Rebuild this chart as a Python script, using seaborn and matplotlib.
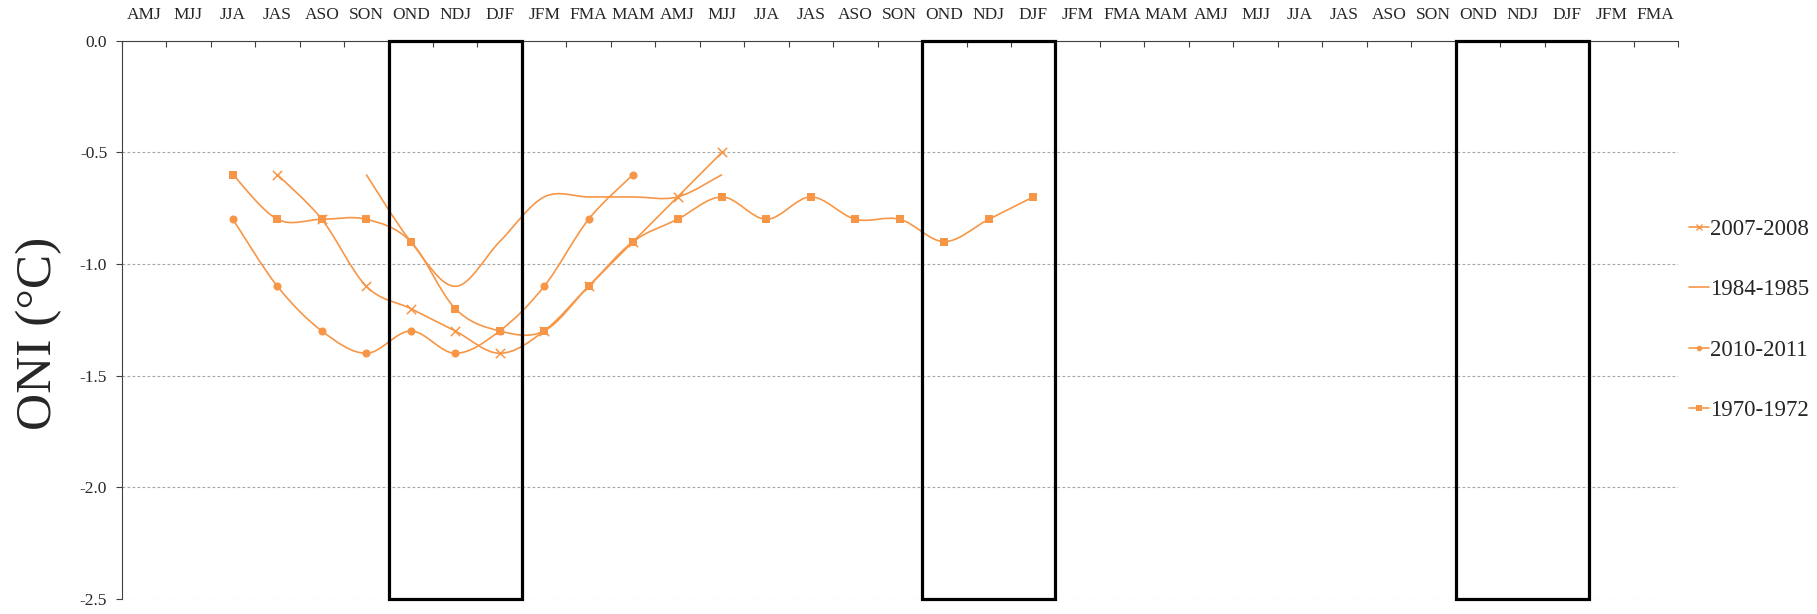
import numpy as np
import pandas as pd
import matplotlib
matplotlib.use("Agg")
import matplotlib.pyplot as plt
import seaborn as sns
from matplotlib.path import Path
from matplotlib.patches import PathPatch, Rectangle
from matplotlib.lines import Line2D

# 3-month seasons along the top axis
seasons = ['AMJ', 'MJJ', 'JJA', 'JAS', 'ASO', 'SON', 'OND', 'NDJ', 'DJF', 'JFM', 'FMA', 'MAM',
           'AMJ', 'MJJ', 'JJA', 'JAS', 'ASO', 'SON', 'OND', 'NDJ', 'DJF', 'JFM', 'FMA', 'MAM',
           'AMJ', 'MJJ', 'JJA', 'JAS', 'ASO', 'SON', 'OND', 'NDJ', 'DJF', 'JFM', 'FMA']

# ONI values (first season index where each series starts)
start_2007 = 3
oni_2007 = [-0.6, -0.8, -1.1, -1.2, -1.3, -1.4, -1.3, -1.1, -0.9, -0.7, -0.5]
start_1984 = 5
oni_1984 = [-0.6, -0.9, -1.1, -0.9, -0.7, -0.7, -0.7, -0.7, -0.6]
start_2010 = 2
oni_2010 = [-0.8, -1.1, -1.3, -1.4, -1.3, -1.4, -1.3, -1.1, -0.8, -0.6]
start_1970 = 2
oni_1970 = [-0.6, -0.8, -0.8, -0.8, -0.9, -1.2, -1.3, -1.3, -1.1, -0.9, -0.8, -0.7,
            -0.8, -0.7, -0.8, -0.8, -0.9, -0.8, -0.7]

# winter boxes (first season index, number of seasons)
boxes = [(6, 3), (18, 3), (30, 3)]

y_ticks = [-2.5, -2.0, -1.5, -1.0, -0.5, 0.0]
y_tick_labels = ['-2.5', '-2.0', '-1.5', '-1.0', '-0.5', '0.0']

orange = '#F79646'

sns.set_style("white")
plt.rcParams['font.family'] = ['Liberation Serif', 'DejaVu Serif']

series = [
    ('2007-2008', start_2007, oni_2007, 'x'),
    ('1984-1985', start_1984, oni_1984, None),
    ('2010-2011', start_2010, oni_2010, 'o'),
    ('1970-1972', start_1970, oni_1970, 's'),
]

frames = []
for name, start, vals, mk in series:
    frames.append(pd.DataFrame({'series': name,
                                'x': np.arange(start, start + len(vals)) + 0.5,
                                'oni': vals}))
df = pd.concat(frames, ignore_index=True)


def smooth_path(xs, ys):
    # bezier segments, like a spreadsheet "smoothed line"
    pts = np.column_stack([xs, ys])
    verts = [pts[0]]
    codes = [Path.MOVETO]
    n = len(pts)
    for i in range(n - 1):
        p0 = pts[i - 1] if i > 0 else pts[i]
        p1 = pts[i]
        p2 = pts[i + 1]
        p3 = pts[i + 2] if i + 2 < n else pts[i + 1]
        c1 = p1 + (p2 - p0) / 6.0
        c2 = p2 - (p3 - p1) / 6.0
        verts += [c1, c2, p2]
        codes += [Path.CURVE4] * 3
    return Path(verts, codes)


fig = plt.figure(figsize=(18.17, 6.14), dpi=100)
ax = fig.add_axes([0.067, 0.0244, 0.8565, 0.9095])

for name, start, vals, mk in series:
    sub = df[df['series'] == name]
    ax.add_patch(PathPatch(smooth_path(sub['x'].values, sub['oni'].values),
                           facecolor='none', edgecolor=orange, lw=1.2, zorder=3))
    if mk == 'x':
        sns.scatterplot(data=sub, x='x', y='oni', marker='x', color=orange, s=45,
                        linewidth=1.1, ax=ax, zorder=4, legend=False)
    elif mk is not None:
        sns.scatterplot(data=sub, x='x', y='oni', marker=mk, color=orange, s=34,
                        linewidth=0, ax=ax, zorder=4, legend=False)

for b0, w in boxes:
    ax.add_patch(Rectangle((b0, -2.5), w, 2.5, facecolor='none', edgecolor='black',
                           lw=2.3, zorder=5, clip_on=False))

ax.set_xlim(0, len(seasons))
ax.set_ylim(-2.5, 0)

ax.set_xticks(np.arange(len(seasons) + 1))
ax.set_xticklabels([])
ax.set_xticks(np.arange(len(seasons)) + 0.5, minor=True)
ax.set_xticklabels(seasons, minor=True, fontsize=12.5)
ax.tick_params(axis='x', which='major', direction='in', length=4, width=0.8, color='#404040',
               top=True, bottom=False, labeltop=False, labelbottom=False)
ax.tick_params(axis='x', which='minor', length=0, top=True, bottom=False,
               labeltop=True, labelbottom=False, pad=13)

ax.set_yticks(y_ticks)
ax.set_yticklabels(y_tick_labels, fontsize=12.5)
ax.tick_params(axis='y', which='major', direction='out', length=4.5, width=0.8,
               color='#404040', left=True, pad=6)

ax.yaxis.grid(True, linestyle=(0, (2.5, 2)), color='#A6A6A6', lw=0.8)
ax.xaxis.grid(False)
for side in ['right', 'bottom']:
    ax.spines[side].set_visible(False)
for side in ['top', 'left']:
    ax.spines[side].set_color('#404040')
    ax.spines[side].set_linewidth(0.8)

ax.set_xlabel('')
ax.set_ylabel('ONI (°C)', fontsize=37)
ax.yaxis.set_label_coords(-0.038, 0.476)

handles = [
    Line2D([], [], color=orange, lw=1.2, marker='x', markersize=5, markeredgewidth=1.0),
    Line2D([], [], color=orange, lw=1.2),
    Line2D([], [], color=orange, lw=1.2, marker='o', markersize=4, markeredgewidth=0),
    Line2D([], [], color=orange, lw=1.2, marker='s', markersize=4, markeredgewidth=0),
]
ax.legend(handles, [s[0] for s in series], loc='center left', bbox_to_anchor=(0.998, 0.5),
          frameon=False, fontsize=16.5, handlelength=0.9, handletextpad=0.05,
          labelspacing=1.72, borderaxespad=0.2)

fig.savefig('out.png', dpi=100)
